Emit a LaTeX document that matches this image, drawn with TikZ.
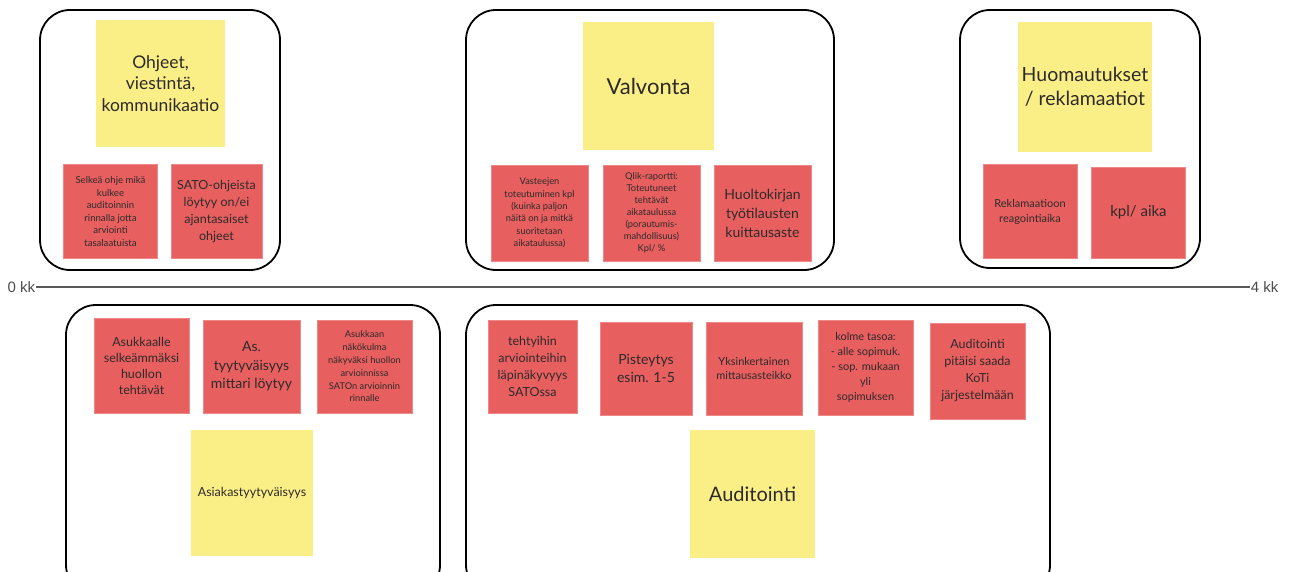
\documentclass[tikz,border=0pt]{standalone}
\usepackage{fontspec}
\setmainfont{Lato}
\newfontfamily\axisfont{Liberation Sans}
\definecolor{notered}{HTML}{E85F60}
\definecolor{noteyellow}{HTML}{FAEE86}
\definecolor{ink}{HTML}{2E2A2A}
\newcommand{\fs}[1]{\fontsize{#1}{\fpeval{1.36*#1}}\selectfont}
\tikzset{
  frame/.style={draw=black, line width=1.8pt, rounded corners=30pt, fill=white},
  rednote/.style={fill=notered, draw=notered!75!white, line width=0.6pt,
    minimum width=94pt, minimum height=94pt, inner sep=1pt, align=center,
    text=ink, font=\fs{10}},
  yellownote/.style={fill=noteyellow, minimum width=128pt, minimum height=128pt,
    inner sep=1pt, align=center, text=ink, font=\fs{18}},
  axislabel/.style={font=\axisfont\fontsize{15}{17}\selectfont, text=black!70, inner sep=0.5pt},
  axisline/.style={draw=black!65, line width=1.3pt}
}
\begin{document}
\begin{tikzpicture}[x=1pt,y=-1pt]
\useasboundingbox (0,0) rectangle (1289,572);
\clip (0,0) rectangle (1289,572);
\fill[white] (0,0) rectangle (1289,572);

% group frames
\node[frame, minimum width=240pt, minimum height=260pt] (fOhjeet) at (160,140) {};
\node[frame, minimum width=368pt, minimum height=260pt] (fValvonta) at (650,140) {};
\node[frame, minimum width=240pt, minimum height=258pt] (fHuom) at (1080,139) {};
\node[frame, minimum width=374pt, minimum height=290pt] (fAsiakas) at (253,450) {};
\node[frame, minimum width=584pt, minimum height=290pt] (fAudit) at (758,450) {};

% timeline
\node[axislabel, anchor=west] (t0) at (7,287) {0 kk};
\node[axislabel, anchor=east] (t4) at (1279,287) {4 kk};
\draw[axisline] (t0.east) -- (t4.west);

% Ohjeet, viestintä, kommunikaatio
\node[yellownote, minimum width=129pt, minimum height=127pt, font={\fontsize{17.5}{21.5}\selectfont}] (yOhjeet) at (160.5,83.5) {Ohjeet,\\viestintä,\\kommunikaatio};
\node[rednote, font={\fontsize{9.6}{12.6}\selectfont}] (rO1) at (110.5,211.5) {Selkeä ohje mikä\\kulkee\\auditoinnin\\rinnalla jotta\\arviointi\\tasalaatuista};
\node[rednote, minimum width=91pt, font=\fs{12.5}] (rO2) at (216.5,211.5) {SATO-ohjeista\\löytyy on/ei\\ajantasaiset\\ohjeet};

% Valvonta
\node[yellownote, minimum width=131pt, font=\fs{22}] (yValvonta) at (648.5,86) {Valvonta};
\node[rednote, minimum width=97pt, minimum height=96pt, font={\fontsize{9.3}{12.4}\selectfont}] (rV1) at (539.5,213) {Vasteejen\\toteutuminen kpl\\(kuinka paljon\\näitä on ja mitkä\\suoritetaan\\aikataulussa)};
\node[rednote, minimum width=97pt, minimum height=96pt, font={\fontsize{9.3}{12}\selectfont}] (rV2) at (651.5,213) {Qlik-raportti:\\Toteutuneet\\tehtävät\\aikataulussa\\(porautumis-\\mahdollisuus)\\Kpl/ \%};
\node[rednote, minimum width=97pt, minimum height=96pt, font=\fs{14}] (rV3) at (762.5,213) {Huoltokirjan\\työtilausten\\kuittausaste};

% Huomautukset / reklamaatiot
\node[yellownote, minimum width=134pt, minimum height=130pt, font={\fontsize{19.5}{24}\selectfont}] (yHuom) at (1085,87) {Huomautukset\\/ reklamaatiot};
\node[rednote, font={\fontsize{11}{15}\selectfont}] (rH1) at (1030,211.5) {Reklamaatioon\\reagointiaika};
\node[rednote, minimum height=91pt, font=\fs{15}] (rH2) at (1138.5,212.5) {kpl/ aika};

% Asiakastyytyväisyys
\node[rednote, minimum width=95pt, minimum height=95pt, font={\fontsize{12.5}{16}\selectfont}] (rA1) at (141.5,365.5) {Asukkaalle\\selkeämmäksi\\huollon\\tehtävät};
\node[rednote, minimum width=97pt, minimum height=93pt, font={\fontsize{14}{18.5}\selectfont}] (rA2) at (251.5,366.5) {As.\\tyytyväisyys\\mittari löytyy};
\node[rednote, minimum width=95pt, minimum height=93pt, font={\fontsize{9.3}{12.8}\selectfont}] (rA3) at (364.5,366.5) {Asukkaan\\näkökulma\\näkyväksi huollon\\arvioinnissa\\SATOn arvioinnin\\rinnalle};
\node[yellownote, minimum width=122pt, minimum height=126pt, font=\fs{12.5}] (yAsiakas) at (252,493) {Asiakastyytyväisyys};

% Auditointi
\node[rednote, minimum width=89pt, minimum height=93pt, font={\fontsize{12.5}{17}\selectfont}] (rU1) at (532.5,366.5) {tehtyihin\\arviointeihin\\läpinäkyvyys\\SATOssa};
\node[rednote, minimum width=92pt, minimum height=93pt, font={\fontsize{14}{17.5}\selectfont}] (rU2) at (646,368.5) {Pisteytys\\esim. 1-5};
\node[rednote, minimum width=96pt, minimum height=93pt, font=\fs{11}] (rU3) at (754,368.5) {Yksinkertainen\\mittausasteikko};
\node[rednote, minimum width=95pt, minimum height=95pt, font={\fontsize{11}{15}\selectfont}] (rU4) at (865.5,367.5) {kolme tasoa:\\- alle sopimuk.\\- sop. mukaan\\yli\\sopimuksen};
\node[rednote, minimum width=95pt, minimum height=96pt, font={\fontsize{12.5}{17}\selectfont}] (rU5) at (977.5,371) {Auditointi\\pitäisi saada\\KoTi\\järjestelmään};
\node[yellownote, minimum width=125pt, font=\fs{20}] (yAudit) at (752.5,494) {Auditointi};
\end{tikzpicture}
\end{document}
